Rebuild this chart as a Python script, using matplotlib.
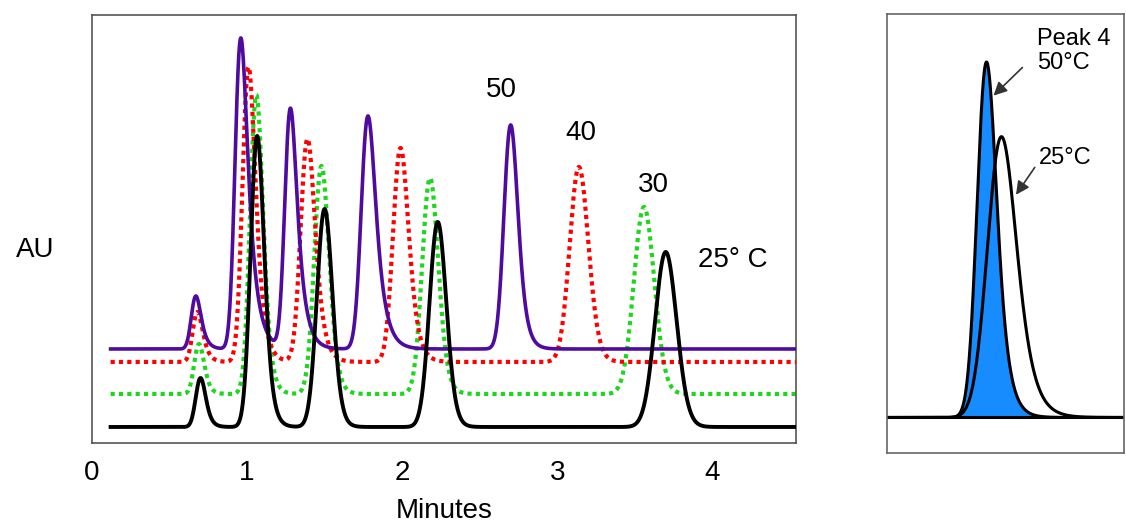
import math

import matplotlib
matplotlib.use("Agg")
import matplotlib.pyplot as plt
import numpy as np

plt.rcParams["font.family"] = ["Liberation Sans", "DejaVu Sans"]

# ==================== data ====================
# main panel: retention time (min), peak height above baseline (AU), peak sigma / tail tau (min)
T_START, T_END = 0.12, 4.54

temps = ["50", "40", "30", "25° C"]
baselines = [0.94, 0.81, 0.49, 0.16]

pos_50 = [0.67, 0.96, 1.28, 1.78, 2.70]
pos_40 = [0.68, 1.01, 1.39, 1.99, 3.14]
pos_30 = [0.69, 1.06, 1.48, 2.18, 3.56]
pos_25 = [0.70, 1.065, 1.50, 2.23, 3.70]

height_50 = [0.53, 3.11, 2.40, 2.33, 2.24]
height_40 = [0.50, 2.95, 2.23, 2.14, 1.95]
height_30 = [0.50, 2.99, 2.28, 2.16, 1.87]
height_25 = [0.49, 2.91, 2.18, 2.05, 1.75]

sigma_50 = [0.025, 0.030, 0.030, 0.036, 0.038]
sigma_40 = [0.026, 0.033, 0.038, 0.042, 0.055]
sigma_30 = [0.027, 0.036, 0.042, 0.046, 0.062]
sigma_25 = [0.027, 0.038, 0.046, 0.050, 0.066]

tau_50 = [0.03, 0.05, 0.045, 0.05, 0.035]
tau_40 = [0.03, 0.04, 0.04, 0.04, 0.03]
tau_30 = [0.025, 0.03, 0.03, 0.03, 0.025]
tau_25 = [0.025, 0.03, 0.025, 0.025, 0.025]

label_x = [2.64, 3.15, 3.62, 4.13]
label_y = [3.53, 3.10, 2.58, 1.83]

# zoom panel: peak 4 at 50°C (filled) and 25°C (outline)
zoom_pos = [1.00, 1.15]
zoom_height = [1.00, 0.79]
zoom_sigma = [0.082, 0.125]
zoom_tau = [0.08, 0.11]

colors = ["#4f0aa0", "#ff0000", "#1fd61f", "#000000"]
styles = ["-", (0, (1, 1)), (0, (1, 1)), "-"]
widths = [2.6, 3.0, 3.0, 2.8]
FILL_BLUE = "#168cff"

erfc = np.vectorize(math.erfc)


def emg(t, mu, sigma, tau):
    """exponentially modified gaussian (unnormalised)"""
    z = t - mu
    out = np.zeros_like(t)
    ok = z > -8 * sigma
    arg = sigma**2 / (2 * tau**2) - z[ok] / tau
    out[ok] = np.exp(arg) * erfc((sigma / tau - z[ok] / sigma) / math.sqrt(2))
    return out


def peak(t, apex, height, sigma, tau):
    # shift so that the maximum sits at the read apex position, then scale to height
    local = np.linspace(-1, 1, 4001)
    shape = emg(local, 0.0, sigma, tau)
    offset = local[np.argmax(shape)]
    y = emg(t, apex - offset, sigma, tau)
    return height * y / shape.max()


def trace(t, base, positions, heights, sigmas, taus):
    y = np.full_like(t, base)
    for p, h, s, k in zip(positions, heights, sigmas, taus):
        y += peak(t, p, h, s, k)
    return y


t = np.linspace(T_START, T_END, 6000)
series = [
    (pos_50, height_50, sigma_50, tau_50),
    (pos_40, height_40, sigma_40, tau_40),
    (pos_30, height_30, sigma_30, tau_30),
    (pos_25, height_25, sigma_25, tau_25),
]

fig = plt.figure(figsize=(11.26, 5.23), dpi=100)
ax = fig.add_axes([0.0817, 0.153, 0.6252, 0.8184])

for i, (p, h, s, k) in enumerate(series):
    y = trace(t, baselines[i], p, h, s, k)
    ax.plot(t, y, color=colors[i], linestyle=styles[i], linewidth=widths[i],
            dash_capstyle="butt", zorder=4 - i if i < 3 else 5)
    ax.text(label_x[i], label_y[i], temps[i], fontsize=20, ha="center", va="center")

ax.set_xlim(0.026, 4.54)
ax.set_ylim(0, 4.28)
ax.set_xticks([0, 1, 2, 3, 4])
ax.set_yticks([])
ax.tick_params(axis="x", length=0, pad=12, labelsize=20)
ax.set_xlabel("Minutes", fontsize=20, labelpad=9)
for sp in ax.spines.values():
    sp.set_color("#555555")
    sp.set_linewidth(1.2)

fig.text(0.031, 0.522, "AU", fontsize=20, ha="center", va="center")

# ==================== zoom panel ====================
az = fig.add_axes([0.7877, 0.1338, 0.2105, 0.8394])
tz = np.linspace(0, 2.38, 3000)
y50 = peak(tz, zoom_pos[0], zoom_height[0], zoom_sigma[0], zoom_tau[0])
y25 = peak(tz, zoom_pos[1], zoom_height[1], zoom_sigma[1], zoom_tau[1])

az.fill_between(tz, 0, y50, color=FILL_BLUE, linewidth=0)
az.plot(tz, y50, color="black", linewidth=2.2)
az.plot(tz, y25, color="black", linewidth=2.2)
az.axhline(0, color="black", linewidth=2.2)

arrow = dict(arrowstyle="-|>", color="#333333", lw=1.2, mutation_scale=20)
az.annotate("", xy=(1.05, 0.90), xytext=(1.38, 0.99), arrowprops=arrow)
az.annotate("", xy=(1.28, 0.62), xytext=(1.50, 0.71), arrowprops=arrow)
az.text(1.51, 1.03, "Peak 4\n50°C", fontsize=17, ha="left", va="center", linespacing=1.1)
az.text(1.53, 0.73, "25°C", fontsize=17, ha="left", va="center")

az.set_xlim(0, 2.38)
az.set_ylim(-0.10, 1.135)
az.set_xticks([])
az.set_yticks([])
for sp in az.spines.values():
    sp.set_color("#666666")
    sp.set_linewidth(1.2)

fig.savefig("out.png", dpi=100)
